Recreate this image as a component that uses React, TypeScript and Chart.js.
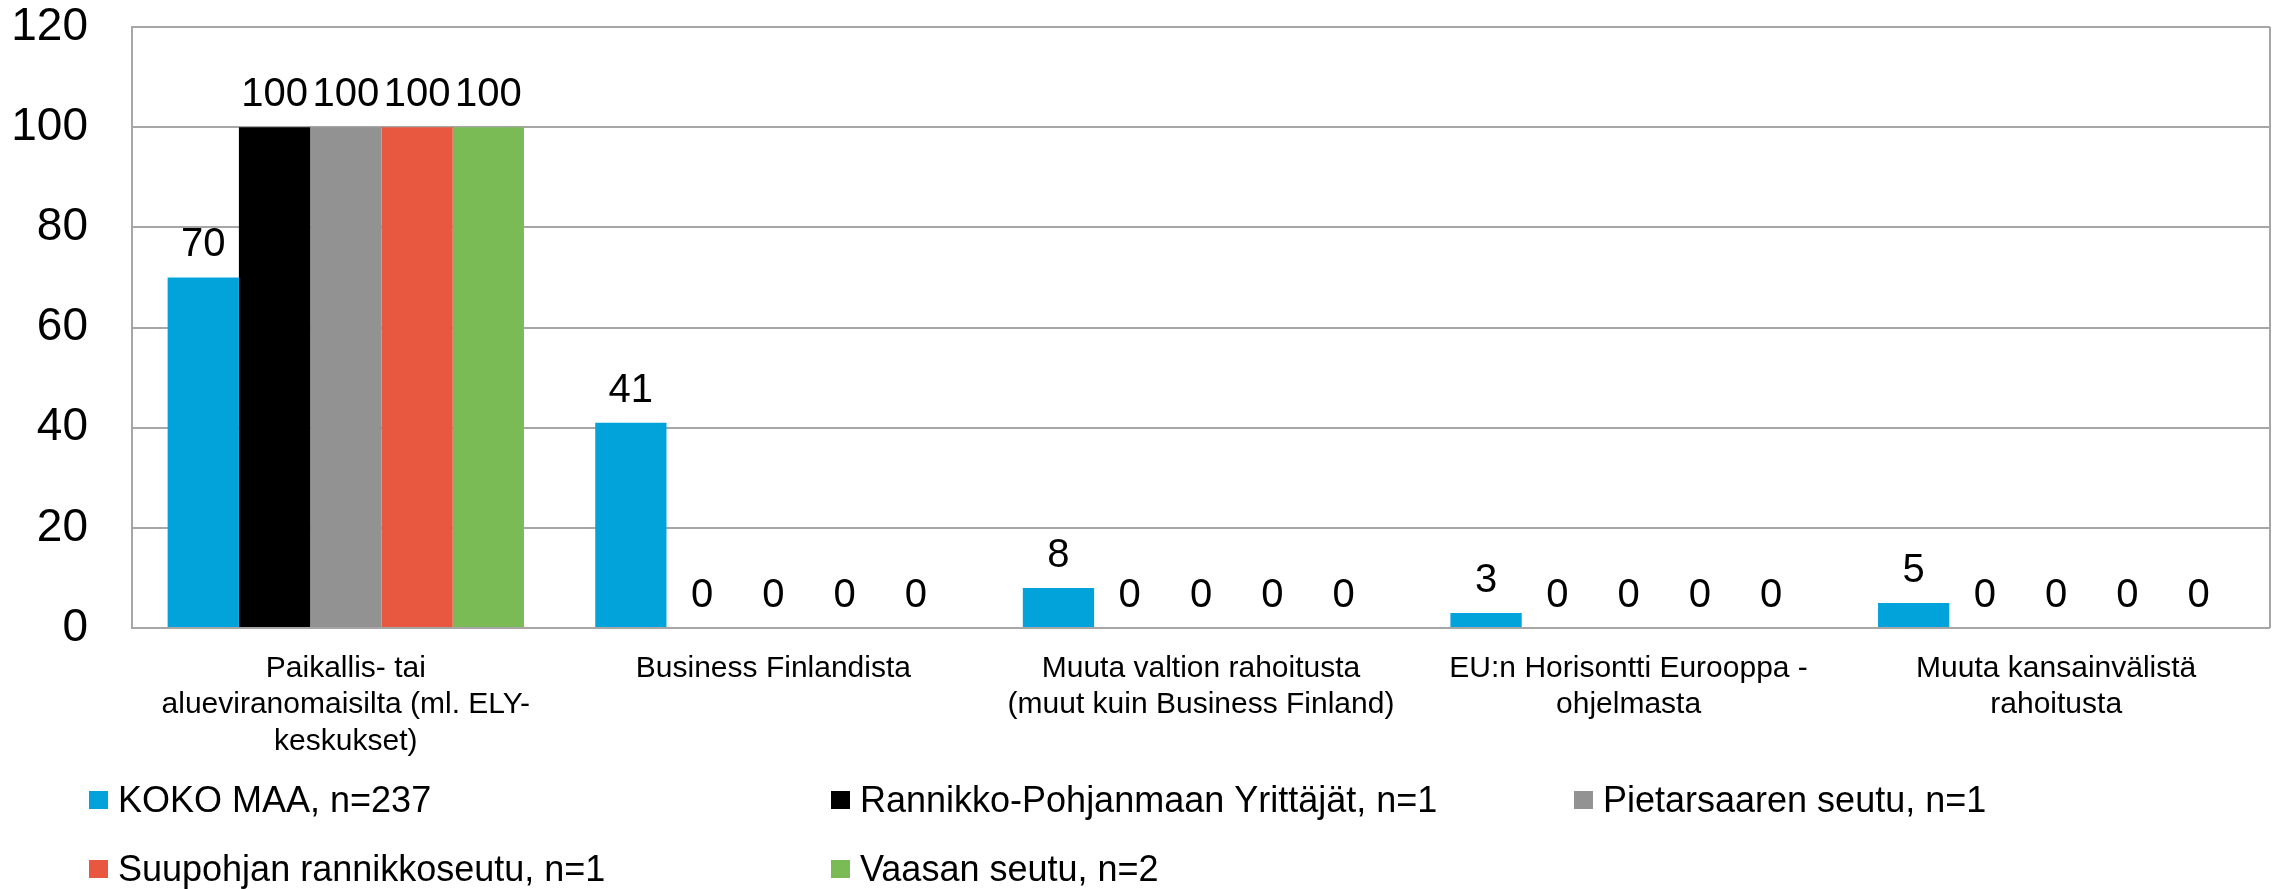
import React, { useEffect, useRef } from "react";
import { Chart, registerables } from "chart.js";

Chart.register(...registerables);

const FONT = "'Liberation Sans', Arial, Helvetica, sans-serif";

const categories: string[][] = [
  ["Paikallis- tai", "alueviranomaisilta (ml. ELY-", "keskukset)"],
  ["Business Finlandista"],
  ["Muuta valtion rahoitusta", "(muut kuin Business Finland)"],
  ["EU:n Horisontti Eurooppa -", "ohjelmasta"],
  ["Muuta kansainvälistä", "rahoitusta"],
];

const seriesNames = [
  "KOKO MAA, n=237",
  "Rannikko-Pohjanmaan Yrittäjät, n=1",
  "Pietarsaaren seutu, n=1",
  "Suupohjan rannikkoseutu, n=1",
  "Vaasan seutu, n=2",
];

const kokoMaa = [70, 41, 8, 3, 5];
const rannikkoPohjanmaa = [100, 0, 0, 0, 0];
const pietarsaari = [100, 0, 0, 0, 0];
const suupohja = [100, 0, 0, 0, 0];
const vaasa = [100, 0, 0, 0, 0];

const seriesColors = ["#02A3DA", "#000000", "#929292", "#E85740", "#7ABB55"];

const yMin = 0;
const yMax = 120;
const yStep = 20;

const GRID = "#A6A6A6";

const dataLabelPlugin = {
  id: "dataLabels",
  afterDatasetsDraw(chart: any) {
    const ctx = chart.ctx;
    ctx.save();
    ctx.font = `40px ${FONT}`;
    ctx.fillStyle = "#000";
    ctx.textAlign = "center";
    ctx.textBaseline = "alphabetic";
    chart.data.datasets.forEach((ds: any, i: number) => {
      const meta = chart.getDatasetMeta(i);
      meta.data.forEach((el: any, j: number) => {
        ctx.fillText(String(ds.data[j]), el.x, el.y - 21);
      });
    });
    ctx.restore();
  },
};

const framePlugin = {
  id: "frame",
  beforeDatasetsDraw(chart: any) {
    const { ctx, chartArea } = chart;
    ctx.save();
    ctx.strokeStyle = GRID;
    ctx.lineWidth = 2;
    ctx.beginPath();
    ctx.moveTo(chartArea.right, chartArea.top);
    ctx.lineTo(chartArea.right, chartArea.bottom);
    ctx.stroke();
    ctx.restore();
  },
};

const legendPlugin = {
  id: "customLegend",
  afterDraw(chart: any) {
    const ctx = chart.ctx;
    const colX = [89, 831, 1574];
    const rowY = [800, 869];
    ctx.save();
    ctx.font = `36px ${FONT}`;
    ctx.textAlign = "left";
    ctx.textBaseline = "alphabetic";
    chart.data.datasets.forEach((ds: any, i: number) => {
      const x = colX[i % 3];
      const y = rowY[Math.floor(i / 3)];
      ctx.fillStyle = ds.backgroundColor;
      ctx.fillRect(x, y - 9, 19, 18);
      ctx.fillStyle = "#000";
      ctx.fillText(ds.label, x + 29, y + 12);
    });
    ctx.restore();
  },
};

export default function App() {
  const canvasRef = useRef<HTMLCanvasElement | null>(null);

  useEffect(() => {
    if (!canvasRef.current) return;
    const seriesValues = [kokoMaa, rannikkoPohjanmaa, pietarsaari, suupohja, vaasa];
    const chart = new Chart(canvasRef.current, {
      type: "bar",
      data: {
        labels: categories,
        datasets: seriesValues.map((vals, i) => ({
          label: seriesNames[i],
          data: vals,
          backgroundColor: seriesColors[i],
          borderWidth: 0,
          barPercentage: 1,
          categoryPercentage: 5 / 6,
        })),
      },
      options: {
        responsive: false,
        animation: false,
        devicePixelRatio: 1,
        layout: { padding: { top: 27, right: 10, left: 0, bottom: 0 } },
        plugins: {
          legend: { display: false },
          tooltip: { enabled: false },
          title: { display: false },
        },
        scales: {
          x: {
            grid: { display: false, drawTicks: false },
            border: { display: false },
            ticks: {
              color: "#000",
              font: { size: 30, family: FONT, lineHeight: 1.22 },
              padding: 22,
              autoSkip: false,
              maxRotation: 0,
              minRotation: 0,
            },
            afterFit(scale: any) {
              scale.height = 261;
              scale.paddingLeft = 0;
              scale.paddingRight = 0;
            },
          },
          y: {
            min: yMin,
            max: yMax,
            ticks: {
              stepSize: yStep,
              color: "#000",
              font: { size: 46, family: FONT },
              padding: 44,
            },
            grid: { color: GRID, lineWidth: 2, drawTicks: false },
            border: { display: true, color: GRID, width: 2 },
            afterFit(scale: any) {
              scale.width = 132;
              scale.paddingTop = 0;
              scale.paddingBottom = 0;
            },
          },
        },
      },
      plugins: [framePlugin, dataLabelPlugin, legendPlugin],
    });
    return () => chart.destroy();
  }, []);

  return (
    <div style={{ position: "absolute", left: 0, top: 0, width: 2280, height: 889, background: "#fff" }}>
      <canvas ref={canvasRef} width={2280} height={889} style={{ display: "block" }} />
    </div>
  );
}
